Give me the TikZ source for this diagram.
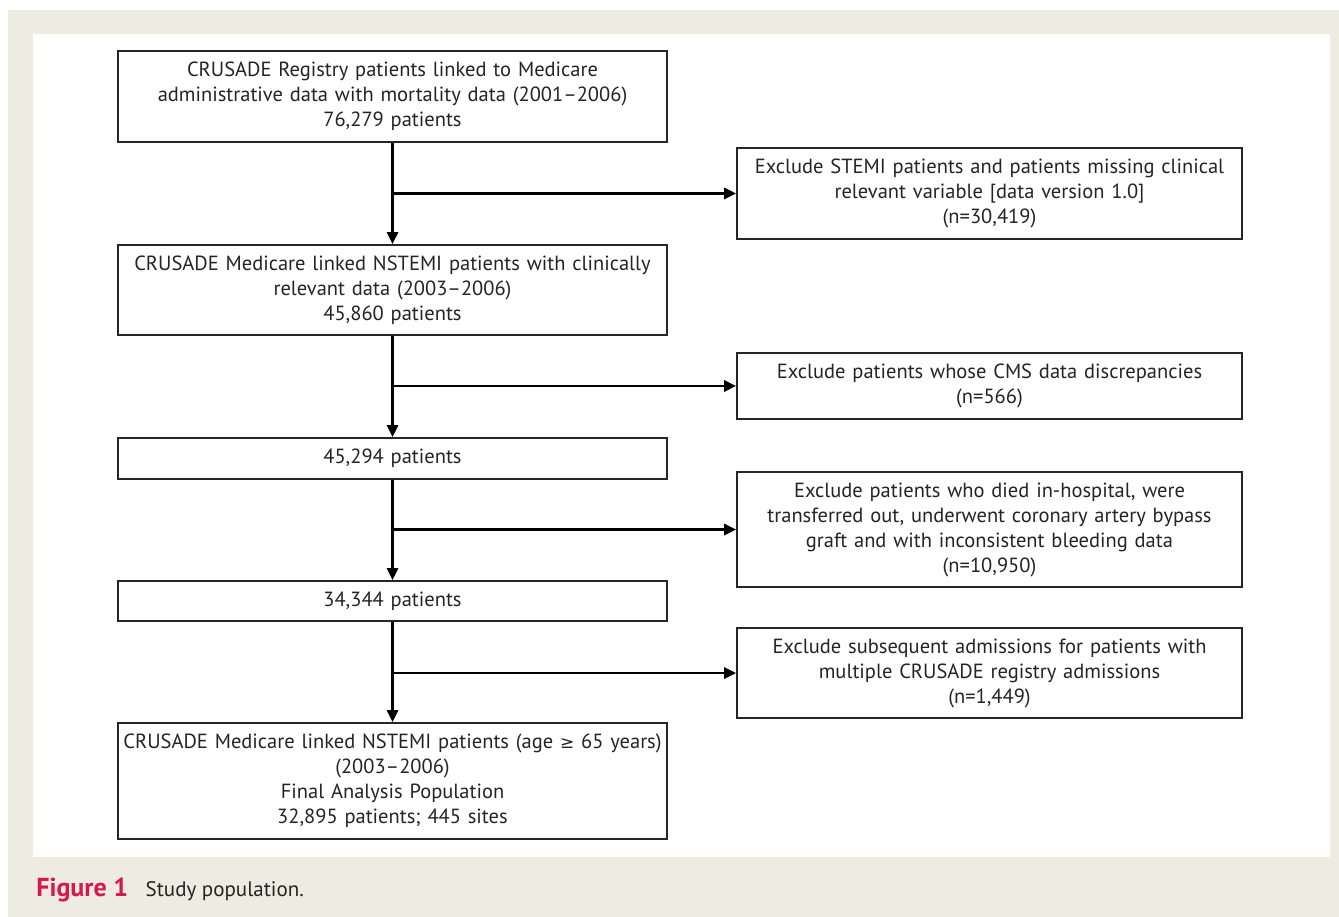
\documentclass[tikz,border=0pt]{standalone}
\usepackage{fontspec}
\setmainfont{PT Sans}
\newfontfamily\symfont{DejaVu Sans}
\usetikzlibrary{arrows.meta, positioning, calc}
\definecolor{cbeige}{HTML}{EEEBE1}
\definecolor{ctext}{HTML}{262324}
\definecolor{cred}{HTML}{D5194B}
\tikzset{
  every picture/.style={font=\fontsize{20.5}{25}\selectfont, line width=2.6pt},
  box/.style={draw=black!85, line width=1.6pt, fill=white, align=center, text=ctext, inner sep=4pt},
  mainbox/.style={box, text width=541pt},
  exbox/.style={box, text width=497pt},
  arrow/.style={-{Triangle[length=12pt, width=11pt]}, draw=black},
  caption/.style={anchor=base west, inner sep=0pt},
}

\begin{document}
\begin{tikzpicture}[x=1pt, y=-1pt]
  % frame
  \useasboundingbox (0,0) rectangle (1339,917);
  \fill[cbeige] (8,10) rectangle (1339,917);
  \fill[white] (33,34) rectangle (1330,857);

  % main column
  \node[mainbox, minimum height=91pt] (b1) at (392.5,96.5) {CRUSADE Registry patients linked to Medicare\\administrative data with mortality data (2001--2006)\\76,279 patients};
  \node[mainbox, minimum height=90pt] (b2) at (392.5,290) {CRUSADE Medicare linked NSTEMI patients with clinically\\relevant data (2003--2006)\\45,860 patients};
  \node[mainbox, minimum height=41pt] (b3) at (392.5,458.5) {45,294 patients};
  \node[mainbox, minimum height=40pt] (b4) at (392.5,601) {34,344 patients};
  \node[mainbox, minimum height=116pt] (b5) at (392.5,781) {CRUSADE Medicare linked NSTEMI patients (age {\symfont\fontsize{17}{25}\selectfont ≥} 65 years)\\(2003--2006)\\Final Analysis Population\\32,895 patients; 445 sites};

  % exclusions
  \node[exbox, minimum height=91pt] (x1) at (989.5,193.5) {Exclude STEMI patients and patients missing clinical\\relevant variable [data version 1.0]\\(n=30,419)};
  \node[exbox, minimum height=66pt] (x2) at (989.5,386) {Exclude patients whose CMS data discrepancies\\(n=566)};
  \node[exbox, minimum height=115pt] (x3) at (989.5,529.5) {Exclude patients who died in-hospital, were\\transferred out, underwent coronary artery bypass\\graft and with inconsistent bleeding data\\(n=10,950)};
  \node[exbox, minimum height=90pt] (x4) at (989.5,673) {Exclude subsequent admissions for patients with\\multiple CRUSADE registry admissions\\(n=1,449)};

  % flow
  \draw[arrow] (b1) -- (b2);
  \draw[arrow] (b2) -- (b3);
  \draw[arrow] (b3) -- (b4);
  \draw[arrow] (b4) -- (b5);
  \coordinate (j1) at (b1.south |- x1.west);
  \coordinate (j2) at (b2.south |- x2.west);
  \coordinate (j3) at (b3.south |- x3.west);
  \coordinate (j4) at (b4.south |- x4.west);
  \draw[arrow] (j1) -- (x1.west);
  \draw[arrow] (j2) -- (x2.west);
  \draw[arrow] (j3) -- (x3.west);
  \draw[arrow] (j4) -- (x4.west);

  % caption
  \node[caption, text=cred, font=\fontsize{26}{30}\selectfont\bfseries] (fig) at (35,896) {Figure 1};
  \node[caption, text=ctext, font=\fontsize{21}{26}\selectfont, right=15pt of fig.base east, anchor=base west] (cap) {Study population.};
\end{tikzpicture}
\end{document}
